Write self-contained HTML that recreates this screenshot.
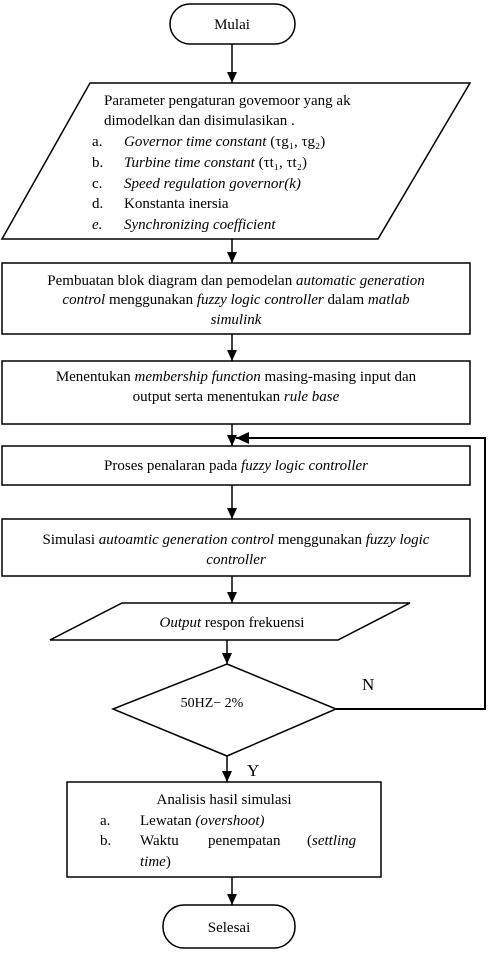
<!DOCTYPE html>
<html><head><meta charset="utf-8"><style>
body{margin:0;background:#fff}
svg{display:block}
text{font-family:"Liberation Serif",serif;font-size:15px;fill:#000}
.i{font-style:italic}
</style></head><body>
<svg width="488" height="954" viewBox="0 0 488 954" xmlns="http://www.w3.org/2000/svg">
<defs><marker id="a" markerWidth="12" markerHeight="12" refX="11" refY="5" orient="auto" markerUnits="userSpaceOnUse"><path d="M0,0 L11,5 L0,10 z" fill="#000"/></marker>
<marker id="b" markerWidth="14" markerHeight="14" refX="13" refY="6" orient="auto" markerUnits="userSpaceOnUse"><path d="M0,0 L13,6 L0,12 z" fill="#000"/></marker></defs>
<g fill="none" stroke="#000" stroke-width="1.5">
<rect x="170" y="4" width="125" height="40" rx="20"/>
<polygon points="90,83 470,83 378,239 2,239"/>
<rect x="2" y="263" width="468" height="71"/>
<rect x="2" y="361" width="468" height="63"/>
<rect x="2" y="446" width="468" height="39"/>
<rect x="2" y="519" width="468" height="57"/>
<polygon points="122,603 410,603 338,640 50,640"/>
<polygon points="227,664 336,709 227,756 113,709"/>
<rect x="67" y="782" width="314" height="95"/>
<rect x="163" y="905" width="132" height="43" rx="21"/>
<g marker-end="url(#a)">
<line x1="232" y1="44" x2="232" y2="83"/>
<line x1="232" y1="239" x2="232" y2="263"/>
<line x1="232" y1="334" x2="232" y2="361"/>
<line x1="232" y1="424" x2="232" y2="446"/>
<line x1="232" y1="485" x2="232" y2="519"/>
<line x1="232" y1="576" x2="232" y2="603"/>
<line x1="227" y1="640" x2="227" y2="664"/>
<line x1="227" y1="756" x2="227" y2="782"/>
<line x1="232" y1="877" x2="232" y2="905"/>
</g>
<polyline points="336,709 485,709 485,438 236,438" stroke-width="2" marker-end="url(#b)"/>
</g>
<text x="232" y="29" text-anchor="middle">Mulai</text>
<text x="104" y="105">Parameter pengaturan govemoor yang ak</text>
<text x="104" y="125">dimodelkan dan disimulasikan .</text>
<text x="92" y="146">a.</text><text x="124" y="146"><tspan class="i">Governor  time constant</tspan> (τg₁, τg₂)</text>
<text x="92" y="167">b.</text><text x="124" y="167"><tspan class="i">Turbine time constant</tspan> (τt₁, τt₂)</text>
<text x="92" y="188">c.</text><text x="124" y="188" class="i">Speed regulation governor(k)</text>
<text x="92" y="208">d.</text><text x="124" y="208">Konstanta inersia</text>
<text x="92" y="229" class="i">e.</text><text x="124" y="229" class="i">Synchronizing coefficient</text>
<text x="236" y="285" text-anchor="middle">Pembuatan blok diagram dan pemodelan <tspan class="i">automatic generation</tspan></text>
<text x="236" y="304" text-anchor="middle"><tspan class="i">control</tspan> menggunakan <tspan class="i">fuzzy logic controller</tspan> dalam <tspan class="i">matlab</tspan></text>
<text x="236" y="324" text-anchor="middle" class="i">simulink</text>
<text x="236" y="381" text-anchor="middle">Menentukan <tspan class="i">membership function</tspan> masing-masing input dan</text>
<text x="236" y="401" text-anchor="middle">output serta menentukan <tspan class="i">rule base</tspan></text>
<text x="236" y="470" text-anchor="middle">Proses penalaran pada <tspan class="i">fuzzy logic controller</tspan></text>
<text x="236" y="544" text-anchor="middle">Simulasi <tspan class="i">autoamtic generation control</tspan> menggunakan <tspan class="i">fuzzy logic</tspan></text>
<text x="236" y="564" text-anchor="middle" class="i">controller</text>
<text x="232" y="627" text-anchor="middle"><tspan class="i">Output</tspan> respon frekuensi</text>
<text x="212" y="707" text-anchor="middle" style="font-size:14px">50HZ− 2%</text>
<text x="362" y="690" style="font-size:17px">N</text>
<text x="247" y="776" style="font-size:17px">Y</text>
<text x="224" y="804" text-anchor="middle">Analisis hasil simulasi</text>
<text x="100" y="825">a.</text><text x="140" y="825">Lewatan <tspan class="i">(overshoot)</tspan></text>
<text x="100" y="845">b.</text><text x="140" y="845">Waktu</text><text x="208" y="845">penempatan</text><text x="307" y="845"><tspan>(</tspan><tspan class="i">settling</tspan></text>
<text x="140" y="866"><tspan class="i">time</tspan>)</text>
<text x="229" y="932" text-anchor="middle">Selesai</text>
</svg>
</body></html>
